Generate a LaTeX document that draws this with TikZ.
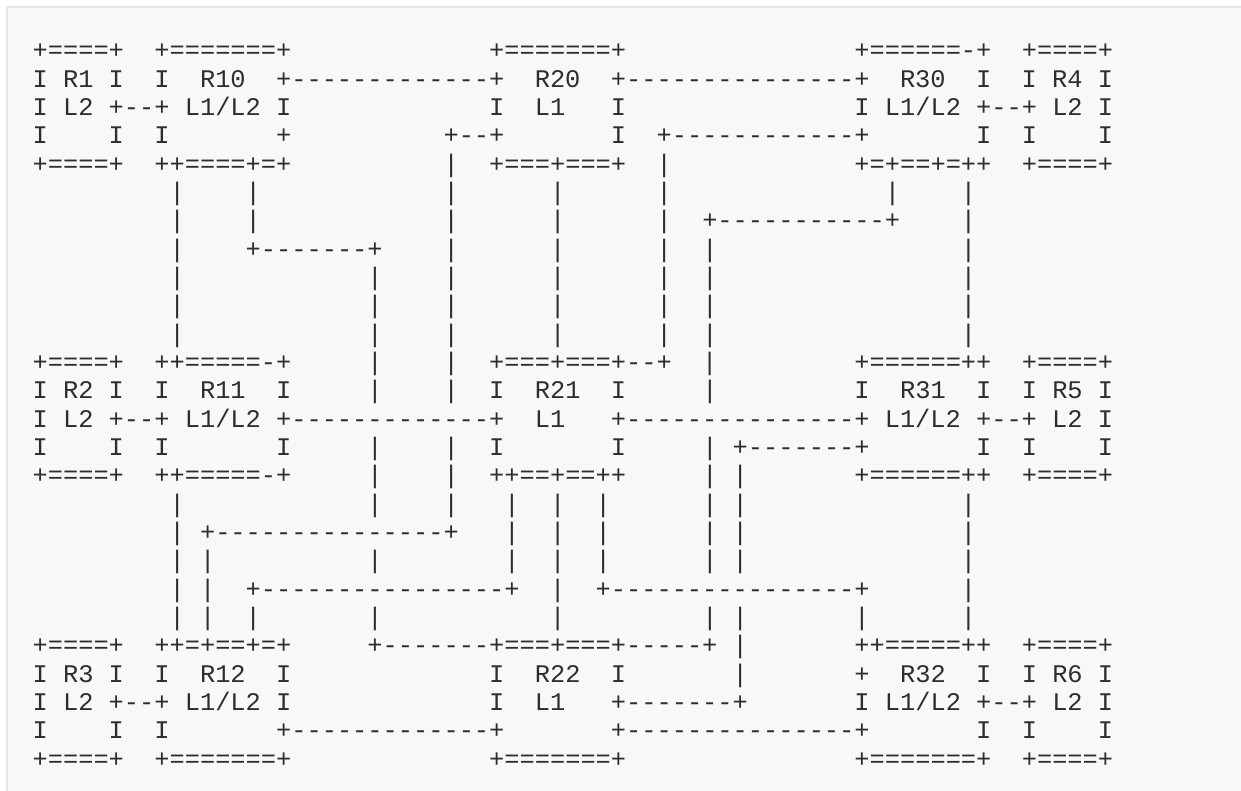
\documentclass[tikz,border=0pt]{standalone}
\usepackage{fontspec}
\setmonofont{Liberation Mono}
\usepackage{tikz}
\definecolor{ink}{RGB}{45,45,45}
\definecolor{paper}{RGB}{248,248,248}
\definecolor{rule}{RGB}{229,229,229}
% one blank column of the mono font, n times
\newcommand\gapw[1]{\hskip#1\fontcharwd\font`M\relax}
\tikzset{
  every picture/.style={x=0.75pt, y=-0.75pt},
  block/.style={fill=paper, draw=none},
  edge/.style={draw=rule, line width=1.5pt},
  row/.style={anchor=base west, inner sep=0pt, text=ink,
    font=\ttfamily\fontsize{19.02pt}{22pt}\selectfont},
}

\begin{document}
\begin{tikzpicture}
  \useasboundingbox[fill=white] (0,0) rectangle (1241,791);
  \path[block] (7,7) rectangle (1241,791);
  \draw[edge] (7,791) -- (7,7) -- (1241,7);
  % the ascii drawing, one node per text line
  \foreach \txt [count=\i] in {
    {+====+\gapw{2}+=======+\gapw{13}+=======+\gapw{15}+======-+\gapw{2}+====+},
    {I R1 I\gapw{2}I\gapw{2}R10\gapw{2}+-------------+\gapw{2}R20\gapw{2}+---------------+\gapw{2}R30\gapw{2}I\gapw{2}I R4 I},
    {I L2 +--+ L1/L2 I\gapw{13}I\gapw{2}L1\gapw{3}I\gapw{15}I L1/L2 +--+ L2 I},
    {I\gapw{4}I\gapw{2}I\gapw{7}+\gapw{10}+--+\gapw{7}I\gapw{2}+------------+\gapw{7}I\gapw{2}I\gapw{4}I},
    {+====+\gapw{2}++====+=+\gapw{10}|\gapw{2}+===+===+\gapw{2}|\gapw{12}+=+==+=++\gapw{2}+====+},
    {\gapw{9}|\gapw{4}|\gapw{12}|\gapw{6}|\gapw{6}|\gapw{14}|\gapw{4}|},
    {\gapw{9}|\gapw{4}|\gapw{12}|\gapw{6}|\gapw{6}|\gapw{2}+-----------+\gapw{4}|},
    {\gapw{9}|\gapw{4}+-------+\gapw{4}|\gapw{6}|\gapw{6}|\gapw{2}|\gapw{16}|},
    {\gapw{9}|\gapw{12}|\gapw{4}|\gapw{6}|\gapw{6}|\gapw{2}|\gapw{16}|},
    {\gapw{9}|\gapw{12}|\gapw{4}|\gapw{6}|\gapw{6}|\gapw{2}|\gapw{16}|},
    {\gapw{9}|\gapw{12}|\gapw{4}|\gapw{6}|\gapw{6}|\gapw{2}|\gapw{16}|},
    {+====+\gapw{2}++=====-+\gapw{5}|\gapw{4}|\gapw{2}+===+===+--+\gapw{2}|\gapw{9}+======++\gapw{2}+====+},
    {I R2 I\gapw{2}I\gapw{2}R11\gapw{2}I\gapw{5}|\gapw{4}|\gapw{2}I\gapw{2}R21\gapw{2}I\gapw{5}|\gapw{9}I\gapw{2}R31\gapw{2}I\gapw{2}I R5 I},
    {I L2 +--+ L1/L2 +-------------+\gapw{2}L1\gapw{3}+---------------+ L1/L2 +--+ L2 I},
    {I\gapw{4}I\gapw{2}I\gapw{7}I\gapw{5}|\gapw{4}|\gapw{2}I\gapw{7}I\gapw{5}| +-------+\gapw{7}I\gapw{2}I\gapw{4}I},
    {+====+\gapw{2}++=====-+\gapw{5}|\gapw{4}|\gapw{2}++==+==++\gapw{5}| |\gapw{7}+======++\gapw{2}+====+},
    {\gapw{9}|\gapw{12}|\gapw{4}|\gapw{3}|\gapw{2}|\gapw{2}|\gapw{6}| |\gapw{14}|},
    {\gapw{9}| +---------------+\gapw{3}|\gapw{2}|\gapw{2}|\gapw{6}| |\gapw{14}|},
    {\gapw{9}| |\gapw{10}|\gapw{8}|\gapw{2}|\gapw{2}|\gapw{6}| |\gapw{14}|},
    {\gapw{9}| |\gapw{2}+----------------+\gapw{2}|\gapw{2}+----------------+\gapw{6}|},
    {\gapw{9}| |\gapw{2}|\gapw{7}|\gapw{11}|\gapw{9}| |\gapw{7}|\gapw{6}|},
    {+====+\gapw{2}++=+==+=+\gapw{5}+-------+===+===+-----+ |\gapw{7}++=====++\gapw{2}+====+},
    {I R3 I\gapw{2}I\gapw{2}R12\gapw{2}I\gapw{13}I\gapw{2}R22\gapw{2}I\gapw{7}|\gapw{7}+\gapw{2}R32\gapw{2}I\gapw{2}I R6 I},
    {I L2 +--+ L1/L2 I\gapw{13}I\gapw{2}L1\gapw{3}+-------+\gapw{7}I L1/L2 +--+ L2 I},
    {I\gapw{4}I\gapw{2}I\gapw{7}+-------------+\gapw{7}+---------------+\gapw{7}I\gapw{2}I\gapw{4}I},
    {+====+\gapw{2}+=======+\gapw{13}+=======+\gapw{15}+=======+\gapw{2}+====+}}
    \node[row] (row\i) at (32.4, {59+(\i-1)*28.33}) {\txt};
\end{tikzpicture}
\end{document}
